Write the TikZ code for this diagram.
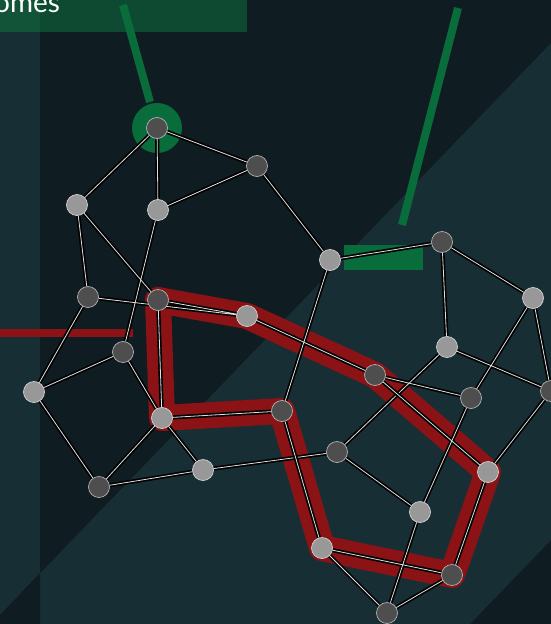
\documentclass[tikz,border=0pt]{standalone}
\usepackage{fontspec}
\setsansfont{Lato}
\usepackage{xcolor}
\usepackage{tikz}
\usetikzlibrary{backgrounds}
\definecolor{bgdark}{RGB}{15,28,33}
\definecolor{bglight}{RGB}{24,46,53}
\definecolor{bandgreen}{RGB}{13,74,49}
\definecolor{bandlight}{RGB}{17,84,56}
\definecolor{markgreen}{RGB}{9,108,59}
\definecolor{loopred}{RGB}{139,19,21}
\definecolor{nodedark}{RGB}{78,78,78}
\definecolor{nodelight}{RGB}{152,152,152}

\begin{document}
\begin{tikzpicture}[x=1pt,y=-1pt,
  dk/.style={circle,fill=nodedark,draw=gray!60,line width=.7pt,minimum size=21pt,inner sep=0pt},
  lt/.style={circle,fill=nodelight,draw=gray!35,line width=.7pt,minimum size=21pt,inner sep=0pt},
  edge/.style={draw=black,line width=1.7pt,double=white!75!gray,double distance=.8pt}]
\useasboundingbox (0,0) rectangle (551,624);
% upper part
\node[dk] (A) at (157,128){};
\node[dk] (B) at (257,166){};
\node[lt] (C) at (77,205){};
\node[lt] (D) at (158,210){};
\node[lt] (E) at (330,260){};
\node[dk] (F) at (442,242){};
\node[dk] (G) at (88,297){};
\node[dk] (H) at (158,300){};
\node[lt] (I) at (247,316){};
\node[lt] (J) at (533,298){};
\node[dk] (K) at (123,352){};
\node[lt] (L) at (447,347){};
\node[lt] (M) at (34,392){};
\node[dk] (N) at (375,375){};
\node[dk] (O) at (471,398){};
\node[dk] (P) at (551,391){};
% lower part
\node[lt] (Q) at (162,418){};
\node[dk] (R) at (282,411){};
\node[dk] (S) at (337,452){};
\node[lt] (T) at (203,470){};
\node[lt] (U) at (488,472){};
\node[dk] (V) at (99,487){};
\node[lt] (W) at (420,512){};
\node[lt] (X) at (322,548){};
\node[dk] (Y) at (452,575){};
\node[dk] (Z) at (387,613){};

\begin{scope}[on background layer]
\clip (0,0) rectangle (551,624);
\fill[bgdark] (0,0) rectangle (551,624);
\fill[bglight] (551,43) -- (0,615) -- (0,624) -- (470,624) -- (551,540) -- cycle;
\fill[bglight] (0,0) rectangle (40,624);
\fill[bgdark] (0,615) -- (40,573) -- (40,624) -- (0,624) -- cycle;
\fill[bandgreen] (0,0) rectangle (247,32);
\fill[bandlight] (0,0) rectangle (40,32);
\node[anchor=base west,text=white,font=\sffamily\fontsize{28}{30}\selectfont,inner sep=0pt] (title) at (-6,12){omes};
\draw[loopred,line width=8pt] (0,333) -- (133,333);
\draw[markgreen,line width=8pt] (123,5) -- (150,102);
\draw[markgreen,line width=8pt] (458,8) -- (402,225);
\fill[markgreen] (A) circle (25);
\fill[markgreen] (344,245) rectangle (423,270);
\draw[loopred,line width=26pt,line join=round] (H.center) -- (I.center) -- (N.center) -- (U.center) -- (Y.center) -- (X.center) -- (R.center) -- (Q.center) -- cycle;
\draw[edge] (A) -- (C) (A) -- (D) (A) -- (B) (B) -- (D) (B) -- (E);
\draw[edge] (C) -- (G) (C) -- (H) (D) -- (K) (G) -- (I) (H) -- (I);
\draw[edge] (G) -- (M) (K) -- (M) (K) -- (Q) (H) -- (Q) (M) -- (V);
\draw[edge] (Q) -- (V) (Q) -- (T) (Q) -- (R) (T) -- (V) (T) -- (S);
\draw[edge] (E) -- (F) (E) -- (R) (F) -- (J) (F) -- (L) (I) -- (N);
\draw[edge] (J) -- (O) (J) -- (P) (L) -- (P) (L) -- (S) (N) -- (O);
\draw[edge] (N) -- (U) (O) -- (W) (P) -- (U) (U) -- (Y) (S) -- (W);
\draw[edge] (R) -- (X) (X) -- (Y) (X) -- (Z) (W) -- (Z) (Y) -- (Z);
\end{scope}
\end{tikzpicture}
\end{document}
